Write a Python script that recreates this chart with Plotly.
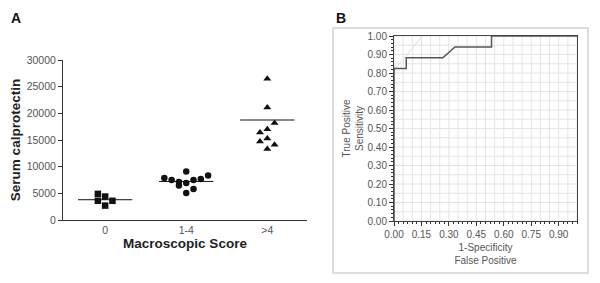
import numpy as np
import plotly.graph_objects as go

# Panel A: serum calprotectin by macroscopic score
groups = ["0", "1-4", ">4"]
score0_vals = [4900, 4400, 3600, 3600, 2700]
score0_jit = [-1, 0, -1, 1, 0]
score14_vals = [7870, 7490, 7120, 6480, 9100, 6930, 7490, 7680, 8350, 5060, 5800]
score14_jit = [-3, -2, -1, -1, 0, 0, 1, 2, 3, 0, 1]
score4p_vals = [26500, 21100, 18200, 16400, 17000, 14700, 15300, 14100, 13300]
score4p_jit = [0, 0, 1, -1, 0, -1, 0, 1, 0]
group_means = [3800, 7230, 18750]

# Panel B: ROC curve
roc_fpr = [0, 0, 0.067, 0.067, 0.267, 0.333, 0.533, 0.533, 1.0]
roc_tpr = [0, 0.824, 0.824, 0.882, 0.882, 0.941, 0.941, 1.0, 1.0]
faint_fpr = [0, 0.155]
faint_tpr = [0.815, 1.0]

FONT = "Arial, Liberation Sans, sans-serif"
JIT = 0.09  # horizontal spread per slot, in category units
W, H, PAGE = 600, 283, 8  # page body margin shifts the plot by 8px


def px(x):
    return (x - PAGE) / W


def py(y):
    return 1 - (y - PAGE) / H


fig = go.Figure()

series = [(score0_vals, score0_jit, "square"),
          (score14_vals, score14_jit, "circle"),
          (score4p_vals, score4p_jit, "triangle-up")]
for i, (vals, jit, sym) in enumerate(series):
    fig.add_trace(go.Scatter(
        x=[i + j * JIT for j in jit], y=vals, mode="markers",
        marker=dict(symbol=sym, size=6.5 if sym != "triangle-up" else 7, color="#111"),
        xaxis="x", yaxis="y", showlegend=False))
    fig.add_trace(go.Scatter(
        x=[i - 0.335, i + 0.335], y=[group_means[i]] * 2, mode="lines",
        line=dict(color="#111", width=1), xaxis="x", yaxis="y", showlegend=False))

fig.add_trace(go.Scatter(x=faint_fpr, y=faint_tpr, mode="lines",
                         line=dict(color="#dcdcdc", width=1),
                         xaxis="x2", yaxis="y2", showlegend=False))
fig.add_trace(go.Scatter(x=roc_fpr, y=roc_tpr, mode="lines",
                         line=dict(color="#555", width=1.5),
                         xaxis="x2", yaxis="y2", showlegend=False))

# light grid for the ROC panel
shapes = []
for v in np.arange(0, 1.0001, 0.05):
    shapes.append(dict(type="line", xref="x2", yref="y2", x0=v, x1=v, y0=0, y1=1,
                       line=dict(color="#e4e4e4", width=1), layer="below"))
    shapes.append(dict(type="line", xref="x2", yref="y2", x0=0, x1=1, y0=v, y1=v,
                       line=dict(color="#e4e4e4", width=1), layer="below"))
# outer frame of panel B
shapes.append(dict(type="rect", xref="paper", yref="paper", x0=px(333), x1=px(588),
                   y0=py(273), y1=py(28), line=dict(color="#d4d4d4", width=1.5)))

fig.update_layout(
    width=W, height=H,
    margin=dict(l=0, r=0, t=0, b=0),
    paper_bgcolor="white", plot_bgcolor="white",
    font=dict(family=FONT, color="#555"),
    shapes=shapes,
    xaxis=dict(domain=[px(63), px(307)], range=[-0.52, 2.49], automargin=False,
               tickvals=[0, 1, 2], ticktext=groups, ticks="",
               showline=True, linecolor="#333", linewidth=1, showgrid=False, zeroline=False,
               tickfont=dict(size=10.5, color="#555"),
               title=dict(text="<b>Macroscopic Score</b>", standoff=2,
                          font=dict(size=13.5, color="#222"))),
    yaxis=dict(domain=[py(220), py(60)], range=[0, 30000], dtick=5000, tickformat="d",
               automargin=False,
               ticks="outside", ticklen=4, tickcolor="#333",
               showline=True, linecolor="#333", linewidth=1, showgrid=False, zeroline=False,
               tickfont=dict(size=10.5, color="#555"),
               title=dict(text="<b>Serum calprotectin</b>", standoff=6,
                          font=dict(size=13.5, color="#222"))),
    xaxis2=dict(domain=[px(394), px(577)], range=[0, 1],
                tickvals=[0, 0.15, 0.3, 0.45, 0.6, 0.75, 0.9],
                ticktext=["0.00", "0.15", "0.30", "0.45", "0.60", "0.75", "0.90"],
                automargin=False,
                ticks="outside", ticklen=4, tickcolor="#333",
                minor=dict(dtick=0.025, ticks="outside", ticklen=2, tickcolor="#333"),
                showline=True, mirror=True, linecolor="#444", linewidth=1,
                showgrid=False, zeroline=False, anchor="y2",
                tickfont=dict(size=10, color="#555"),
                title=dict(text="1-Specificity<br>False Positive", standoff=4,
                           font=dict(size=10, color="#555"))),
    yaxis2=dict(domain=[py(221), py(36)], range=[0, 1], dtick=0.1, tickformat=".2f",
                automargin=False,
                ticks="outside", ticklen=4, tickcolor="#333",
                minor=dict(dtick=0.02, ticks="outside", ticklen=2, tickcolor="#333"),
                showline=True, mirror=True, linecolor="#444", linewidth=1,
                showgrid=False, zeroline=False, anchor="x2",
                tickfont=dict(size=10, color="#555"),
                title=dict(text="True Positive<br>Sensitivity", standoff=2,
                           font=dict(size=10, color="#555"))),
    annotations=[
        dict(text="<b>A</b>", x=px(9), y=1, xref="paper", yref="paper",
             showarrow=False, xanchor="left", yanchor="top", font=dict(size=14, color="#111")),
        dict(text="<b>B</b>", x=px(334), y=1, xref="paper", yref="paper",
             showarrow=False, xanchor="left", yanchor="top", font=dict(size=14, color="#111")),
    ],
)

fig.write_html("out.html")
